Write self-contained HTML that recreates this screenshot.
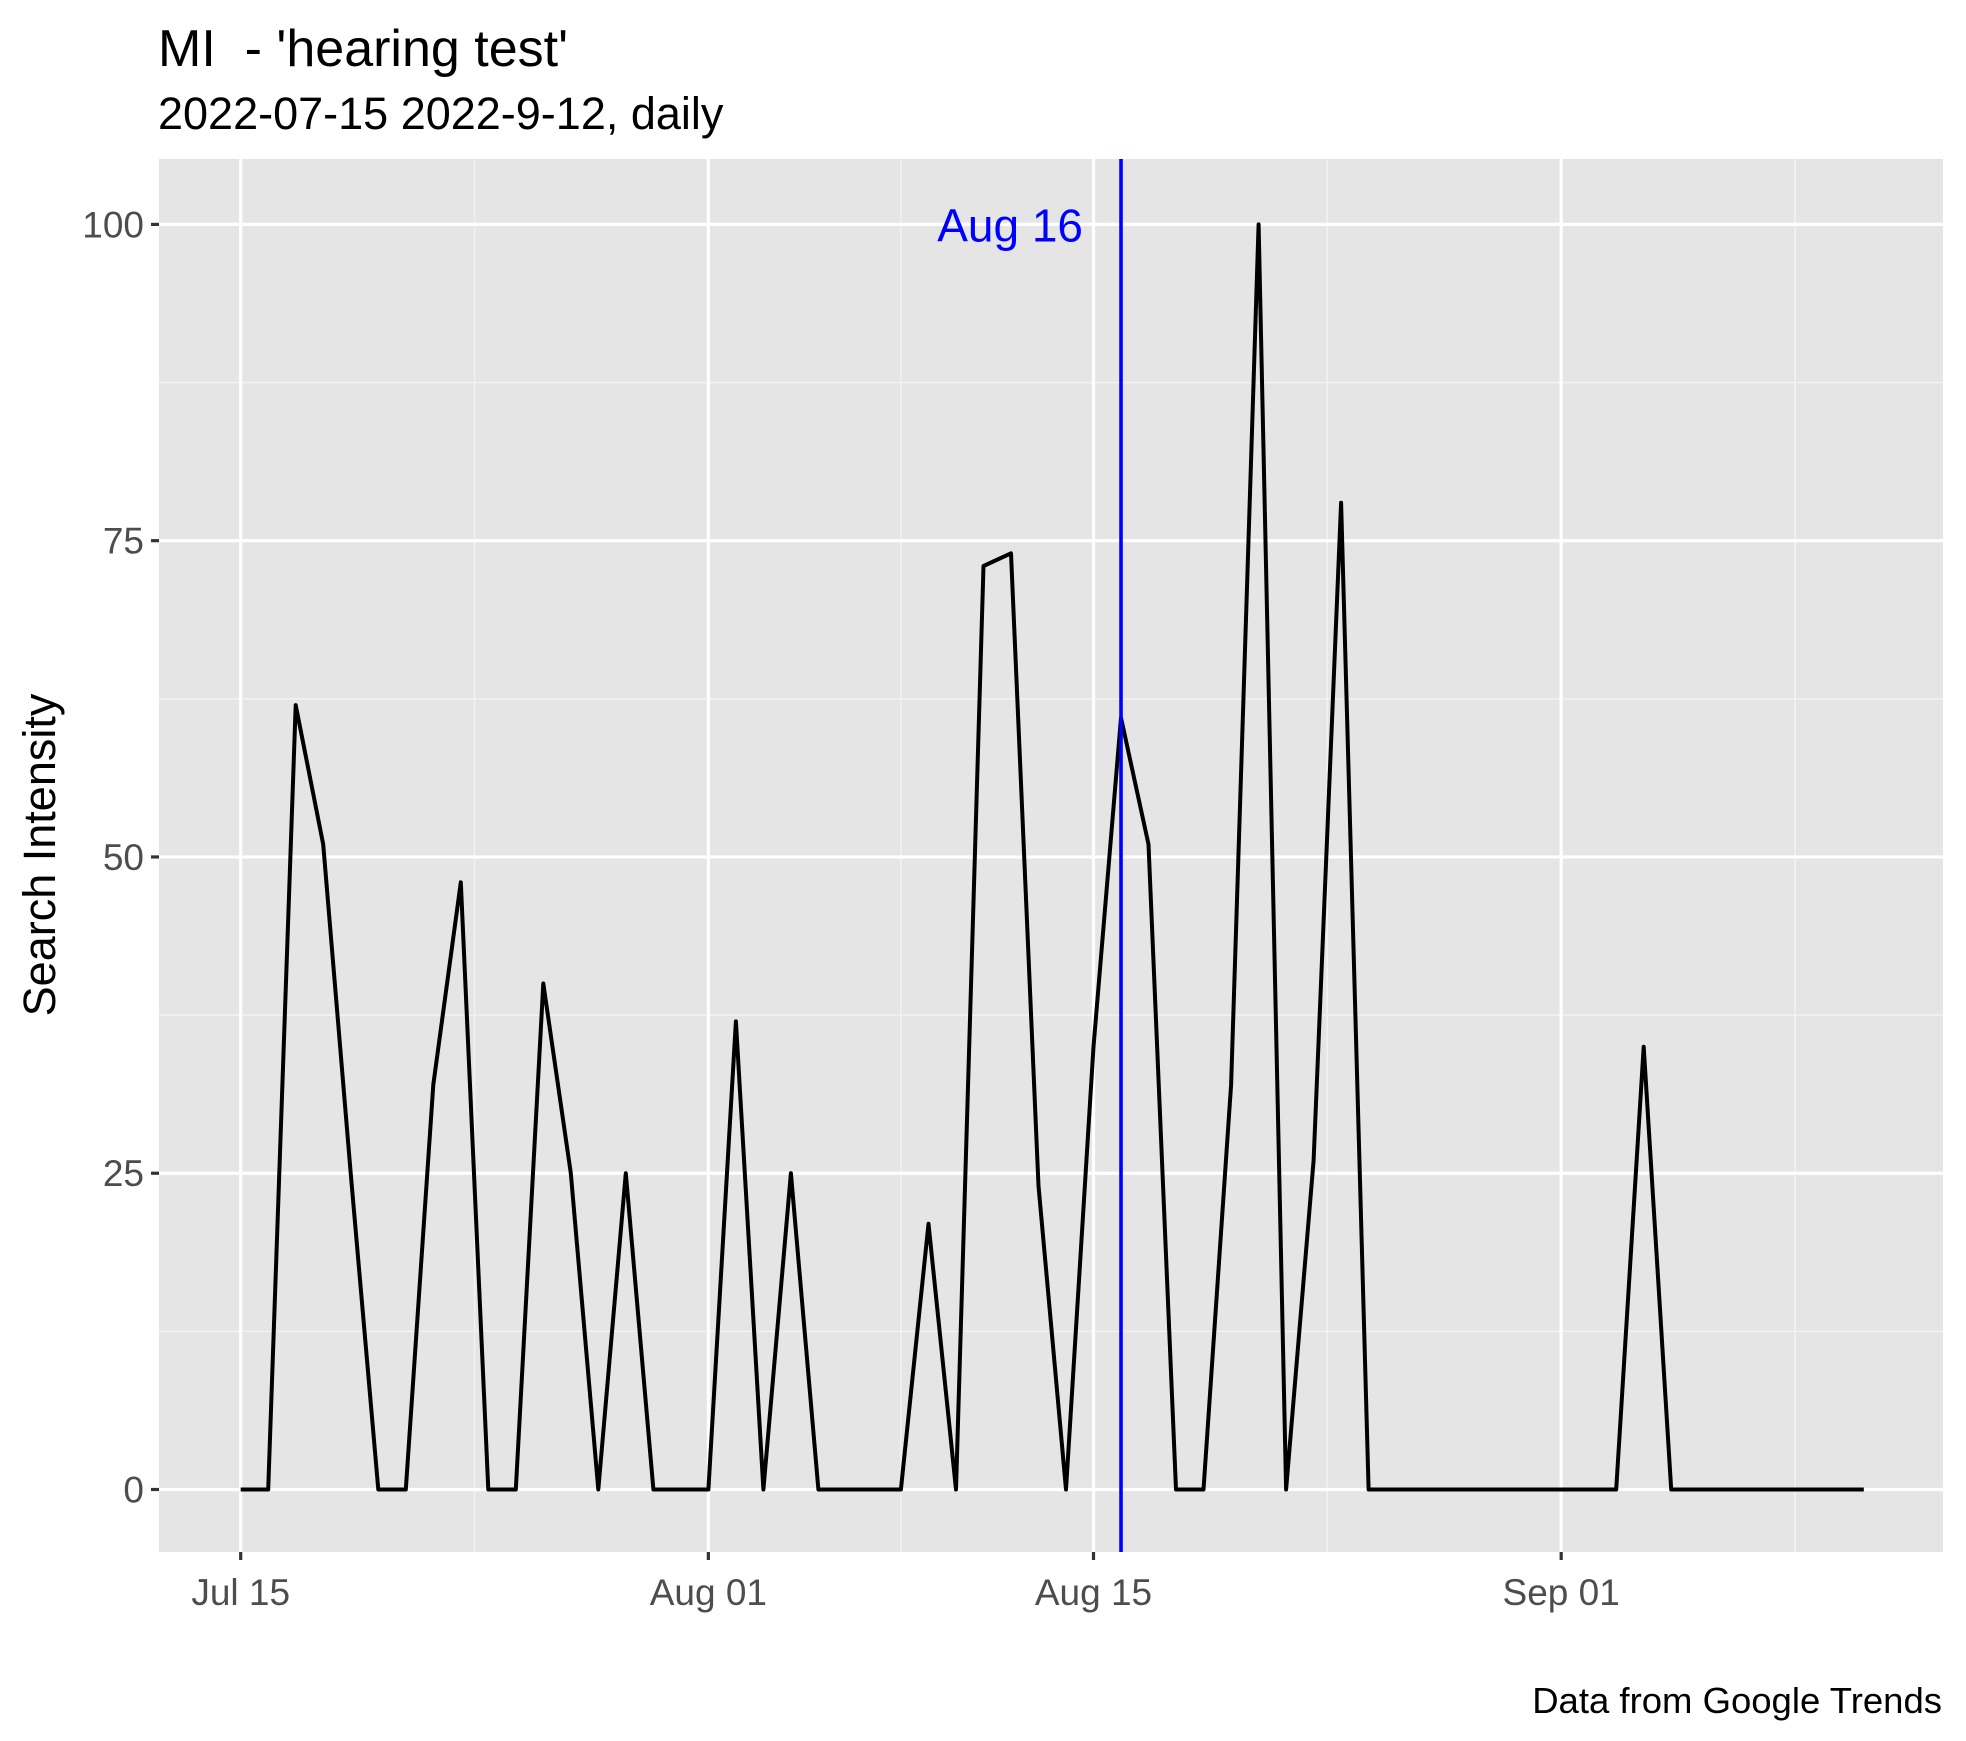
<!DOCTYPE html>
<html><head><meta charset="utf-8"><style>
html,body{margin:0;padding:0;background:#fff;}
svg{display:block;font-family:"Liberation Sans",Arial,sans-serif;}
</style></head><body>
<svg id="chart" width="1966" height="1741" viewBox="0 0 1966 1741">
<text x="158" y="66" font-size="52" fill="#000" xml:space="preserve">MI  - 'hearing test'</text>
<text x="158" y="129" font-size="45" fill="#000">2022-07-15 2022-9-12, daily</text>
<rect x="159" y="159" width="1784" height="1393" fill="#e5e5e5"/>
<g id="grid"></g>
<g id="axes"></g>
<g id="series"></g>
<text x="1942" y="1713" font-size="36.5" text-anchor="end" fill="#000">Data from Google Trends</text>
<text transform="translate(55,855) rotate(-90)" font-size="45" text-anchor="middle" fill="#000">Search Intensity</text>
</svg>
<script>
const values = [0,0,62,51,25,0,0,32,48,0,0,40,25,0,25,0,0,0,37,0,25,0,0,0,0,21,0,73,74,24,0,35,61,51,0,0,32,100,0,26,78,0,0,0,0,0,0,0,0,0,0,35,0,0,0,0,0,0,0,0];
const yTicks = [0,25,50,75,100];
const yMinor = [12.5,37.5,62.5,87.5];
const xTickDays = [0,17,31,48];
const xTickLabels = ["Jul 15","Aug 01","Aug 15","Sep 01"];
const xMinorDays = [8.5,24,39.5,56.5];
const markerDay = 32;
const markerLabel = "Aug 16";

const NS="http://www.w3.org/2000/svg";
const X0=159,X1=1943,Y0=159,Y1=1552;
function xs(d){return 240.7+d*27.51;}
function ys(v){return 1489.5-v*(1489.5-224.4)/100;}
function mk(tag,attrs,parent){const e=document.createElementNS(NS,tag);for(const k in attrs)e.setAttribute(k,attrs[k]);parent.appendChild(e);return e;}
const grid=document.getElementById('grid'),axes=document.getElementById('axes'),series=document.getElementById('series');
yMinor.forEach(v=>{const l=mk('line',{x1:X0,x2:X1,y1:ys(v),y2:ys(v),stroke:'#f2f2f2','stroke-width':1.6},grid);

});
xMinorDays.forEach(d=>{const l=mk('line',{x1:xs(d),x2:xs(d),y1:Y0,y2:Y1,stroke:'#f2f2f2','stroke-width':1.6},grid);

});
yTicks.forEach(v=>{const y=ys(v);
const l=mk('line',{x1:X0,x2:X1,y1:y,y2:y,stroke:'#fff','stroke-width':3.2},grid);


const t=mk('line',{x1:151,x2:X0,y1:y,y2:y,stroke:'#333','stroke-width':3.2},axes);


const tx=mk('text',{x:144,y:y+13,'font-size':37,'text-anchor':'end',fill:'#4d4d4d'},axes);tx.textContent=v;

});
xTickDays.forEach((d,i)=>{const x=xs(d);
const l=mk('line',{x1:x,x2:x,y1:Y0,y2:Y1,stroke:'#fff','stroke-width':3.2},grid);


const t=mk('line',{x1:x,x2:x,y1:Y1,y2:Y1+8,stroke:'#333','stroke-width':3.2},axes);


const tx=mk('text',{x:x,y:1605,'font-size':37,'text-anchor':'middle',fill:'#4d4d4d'},axes);tx.textContent=xTickLabels[i];

});
const pts=values.map((v,i)=>xs(i).toFixed(1)+','+ys(v).toFixed(1)).join(' ');
const pl=mk('polyline',{points:pts,fill:'none',stroke:'#000','stroke-width':4,'stroke-linejoin':'round'},series);


const vl=mk('line',{x1:xs(markerDay),x2:xs(markerDay),y1:Y0,y2:Y1,stroke:'#0000ff','stroke-width':3.6},series);


const ml=mk('text',{x:xs(markerDay)-38,y:ys(100)+17,'font-size':46,'text-anchor':'end',fill:'#0000ff'},series);ml.textContent=markerLabel;


</script>
</body></html>
